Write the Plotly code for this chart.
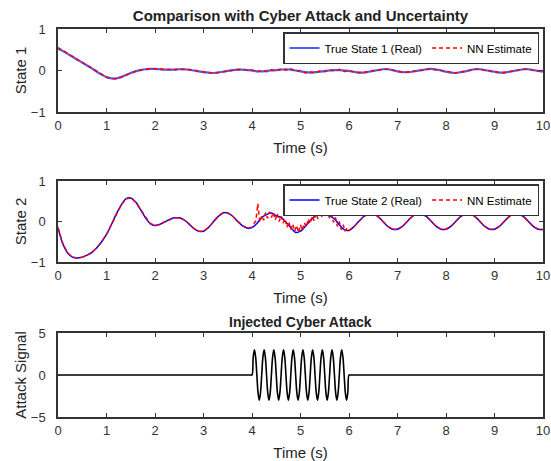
import numpy as np
import plotly.graph_objects as go

# ---------------- data ----------------
t = [round(i * 0.1, 1) for i in range(101)]

state1_true = [
    0.52, 0.47, 0.40, 0.33, 0.26, 0.19, 0.12, 0.05, -0.03, -0.10,
    -0.16, -0.19, -0.19, -0.16, -0.11, -0.06, -0.02, 0.01, 0.03, 0.04,
    0.04, 0.03, 0.02, 0.02, 0.02, 0.03, 0.03, 0.02, 0.00, -0.02,
    -0.04, -0.05, -0.06, -0.05, -0.03, -0.01, 0.01, 0.02, 0.02, 0.01,
    0.00, -0.02, -0.02, -0.01, 0.00, 0.01, 0.02, 0.03, 0.02, 0.00,
    -0.02, -0.04, -0.05, -0.04, -0.03, -0.01, 0.00, 0.01, 0.01, 0.00,
    -0.01, -0.03, -0.05, -0.05, -0.03, -0.01, 0.01, 0.03, 0.03, 0.01,
    -0.02, -0.04, -0.04, -0.03, -0.01, 0.01, 0.03, 0.04, 0.02, 0.00,
    -0.03, -0.05, -0.06, -0.04, -0.02, 0.01, 0.03, 0.03, 0.01, -0.01,
    -0.03, -0.05, -0.05, -0.03, -0.01, 0.01, 0.03, 0.03, 0.01, -0.01,
    -0.03,
]

state1_est = [
    0.55, 0.48, 0.41, 0.33, 0.26, 0.19, 0.12, 0.05, -0.03, -0.10,
    -0.16, -0.19, -0.20, -0.16, -0.11, -0.06, -0.02, 0.01, 0.03, 0.04,
    0.04, 0.03, 0.02, 0.02, 0.02, 0.03, 0.03, 0.02, 0.00, -0.02,
    -0.04, -0.05, -0.06, -0.05, -0.03, -0.01, 0.01, 0.02, 0.02, 0.01,
    0.01, -0.03, 0.00, -0.03, 0.02, -0.01, 0.04, 0.01, 0.04, -0.02,
    0.00, -0.06, -0.03, -0.06, -0.01, -0.03, 0.02, -0.01, 0.03, -0.02,
    -0.01, -0.03, -0.05, -0.05, -0.03, -0.01, 0.01, 0.03, 0.03, 0.01,
    -0.02, -0.04, -0.04, -0.03, -0.01, 0.01, 0.03, 0.04, 0.02, 0.00,
    -0.03, -0.05, -0.06, -0.04, -0.02, 0.01, 0.03, 0.03, 0.01, -0.01,
    -0.03, -0.05, -0.05, -0.03, -0.01, 0.01, 0.03, 0.03, 0.01, -0.01,
    -0.03,
]

state2_true = [
    -0.15, -0.55, -0.78, -0.88, -0.90, -0.88, -0.83, -0.76, -0.65, -0.50,
    -0.32, -0.08, 0.18, 0.40, 0.56, 0.58, 0.48, 0.30, 0.10, -0.05,
    -0.10, -0.07, -0.01, 0.05, 0.09, 0.09, 0.04, -0.06, -0.17, -0.24,
    -0.24, -0.15, -0.01, 0.12, 0.21, 0.21, 0.13, 0.01, -0.10, -0.16,
    -0.15, -0.05, 0.10, 0.17, 0.21, 0.14, 0.10, -0.02, -0.15, -0.27,
    -0.24, -0.12, 0.02, 0.14, 0.23, 0.24, 0.15, 0.06, -0.08, -0.20,
    -0.22, -0.13, 0.00, 0.12, 0.19, 0.19, 0.12, 0.00, -0.12, -0.19,
    -0.19, -0.12, 0.00, 0.12, 0.19, 0.19, 0.12, 0.00, -0.12, -0.19,
    -0.19, -0.12, 0.00, 0.12, 0.19, 0.19, 0.12, 0.00, -0.12, -0.19,
    -0.19, -0.12, 0.00, 0.12, 0.19, 0.19, 0.12, 0.00, -0.12, -0.19,
    -0.20,
]

# NN estimate of state 2 during the attack window (4 s - 6 s), sampled every 0.04 s
t_attack_est = [round(4.0 + i * 0.04, 2) for i in range(51)]
state2_est_attack = [
    -0.14, -0.05, 0.02, 0.44, -0.02, 0.14, 0.03, 0.22, 0.08, 0.24,
    0.10, 0.22, 0.04, 0.20, 0.00, 0.14, -0.04, 0.07, -0.14, 0.00,
    -0.20, -0.06, -0.24, -0.10, -0.27, -0.08, -0.22, -0.03, -0.14, 0.07,
    -0.05, 0.14, 0.02, 0.20, 0.06, 0.24, 0.12, 0.28, 0.14, 0.22,
    0.08, 0.18, -0.02, 0.10, -0.12, 0.00, -0.20, -0.08, -0.24, -0.16,
    -0.22,
]

t_attack = [0.0, 3.95, 3.975] + [round(4.0 + i * 0.025, 3) for i in range(81)] + [6.025, 6.05, 10.0]
attack_signal = [0.0, 0.0, 0.0] + [
    0, 2.12, 3, 2.12, 0, -2.12, -3, -2.12,
    0, 2.12, 3, 2.12, 0, -2.12, -3, -2.12,
    0, 2.12, 3, 2.12, 0, -2.12, -3, -2.12,
    0, 2.12, 3, 2.12, 0, -2.12, -3, -2.12,
    0, 2.12, 3, 2.12, 0, -2.12, -3, -2.12,
    0, 2.12, 3, 2.12, 0, -2.12, -3, -2.12,
    0, 2.12, 3, 2.12, 0, -2.12, -3, -2.12,
    0, 2.12, 3, 2.12, 0, -2.12, -3, -2.12,
    0, 2.12, 3, 2.12, 0, -2.12, -3, -2.12,
    0, 2.12, 3, 2.12, 0, -2.12, -3, -2.12,
    0,
] + [0.0, 0.0, 0.0]

x_ticks = list(range(0, 11))
y_ticks_state = [-1, 0, 1]
y_ticks_attack = [-5, 0, 5]

# estimate of state 2: normal tracking outside the attack window, noisy inside it
t_est2 = t[:40] + t_attack_est + t[61:]
state2_est = state2_true[:40] + state2_est_attack + state2_true[61:]

# ---------------- figure ----------------
W, H = 551, 461
ML, MR, MT, MB = 58, 8, 29, 44
PW, PH = W - ML - MR, H - MT - MB
FONT = "Arial, Liberation Sans, sans-serif"
AXC = "#333333"

def ydom(top_px, bot_px):
    return [1 - (bot_px - MT) / PH, 1 - (top_px - MT) / PH]

def ypap(px):
    return 1 - (px - MT) / PH

fig = go.Figure()

blue1 = "rgb(80,90,255)"
blue2 = "rgb(0,0,255)"
red = "rgb(255,0,0)"

fig.add_trace(go.Scatter(x=t, y=state1_true, mode="lines", name="True State 1 (Real)",
                         line=dict(color=blue1, width=2.2, shape="spline"),
                         xaxis="x", yaxis="y", legend="legend"))
fig.add_trace(go.Scatter(x=t, y=state1_est, mode="lines", name="NN Estimate",
                         line=dict(color=red, width=1.6, dash="4px,3px"),
                         xaxis="x", yaxis="y", legend="legend"))
fig.add_trace(go.Scatter(x=t, y=state2_true, mode="lines", name="True State 2 (Real)",
                         line=dict(color=blue2, width=1.5, shape="spline"),
                         xaxis="x2", yaxis="y2", legend="legend2"))
fig.add_trace(go.Scatter(x=t_est2, y=state2_est, mode="lines", name="NN Estimate",
                         line=dict(color=red, width=1.5, dash="4px,3px"),
                         xaxis="x2", yaxis="y2", legend="legend2"))
fig.add_trace(go.Scatter(x=t_attack, y=attack_signal, mode="lines", showlegend=False,
                         line=dict(color="black", width=1.6, shape="spline"),
                         xaxis="x3", yaxis="y3"))

def xax(anchor):
    return dict(domain=[0, 1], anchor=anchor, range=[0, 10], tickvals=x_ticks,
                ticks="inside", ticklen=4, tickcolor=AXC, tickwidth=1,
                showline=True, linecolor=AXC, linewidth=1.5, mirror="ticks",
                showgrid=False, zeroline=False, automargin=False,
                ticklabeloverflow="allow",
                tickfont=dict(family=FONT, size=13, color="#333333"),
                ticklabelstandoff=1,
                title=dict(text="Time (s)", font=dict(family=FONT, size=15, color="#222222"),
                           standoff=10))

def yax(anchor, dom, rng, tv, title):
    return dict(domain=dom, anchor=anchor, range=rng, tickvals=tv,
                ticks="inside", ticklen=4, tickcolor=AXC, tickwidth=1,
                showline=True, linecolor=AXC, linewidth=1.5, mirror="ticks",
                showgrid=False, zeroline=False, automargin=False,
                ticklabeloverflow="allow",
                tickfont=dict(family=FONT, size=13, color="#333333"),
                ticklabelstandoff=8,
                title=dict(text=title, font=dict(family=FONT, size=15, color="#222222"),
                           standoff=1))

legend_common = dict(orientation="h", xanchor="right", yanchor="top",
                     bgcolor="white", bordercolor=AXC, borderwidth=1.5,
                     font=dict(family=FONT, size=11.5, color="black"),
                     itemwidth=30, tracegroupgap=0)

fig.update_layout(
    width=W, height=H,
    margin=dict(l=ML, r=MR, t=MT, b=MB, autoexpand=False),
    paper_bgcolor="white", plot_bgcolor="white",
    font=dict(family=FONT, color="#222222"),
    title=dict(text="Comparison with Cyber Attack and Uncertainty",
               x=0.5, xref="paper", xanchor="center",
               y=1 - 16 / H, yref="container", yanchor="middle",
               automargin=False,
               font=dict(family=FONT, size=15, weight=700, color="#222222")),
    xaxis=xax("y"),
    yaxis=yax("x", ydom(29, 112), [-1, 1], y_ticks_state, "State 1"),
    xaxis2=xax("y2"),
    yaxis2=yax("x2", ydom(181, 262), [-1, 1], y_ticks_state, "State 2"),
    xaxis3=xax("y3"),
    yaxis3=yax("x3", ydom(333, 417), [-5, 5], y_ticks_attack, "Attack Signal"),
    legend=dict(legend_common, x=(539 - ML) / PW, y=ypap(32)),
    legend2=dict(legend_common, x=(539 - ML) / PW, y=ypap(184)),
    annotations=[dict(text="Injected Cyber Attack", xref="paper", yref="paper",
                      x=0.5, y=ypap(322), xanchor="center", yanchor="middle",
                      showarrow=False,
                      font=dict(family=FONT, size=14, weight=700, color="#222222"))],
)

fig.write_html("out.html",
               config={"displayModeBar": False},
               post_script="document.body.style.margin='0';document.body.style.overflow='hidden';")
